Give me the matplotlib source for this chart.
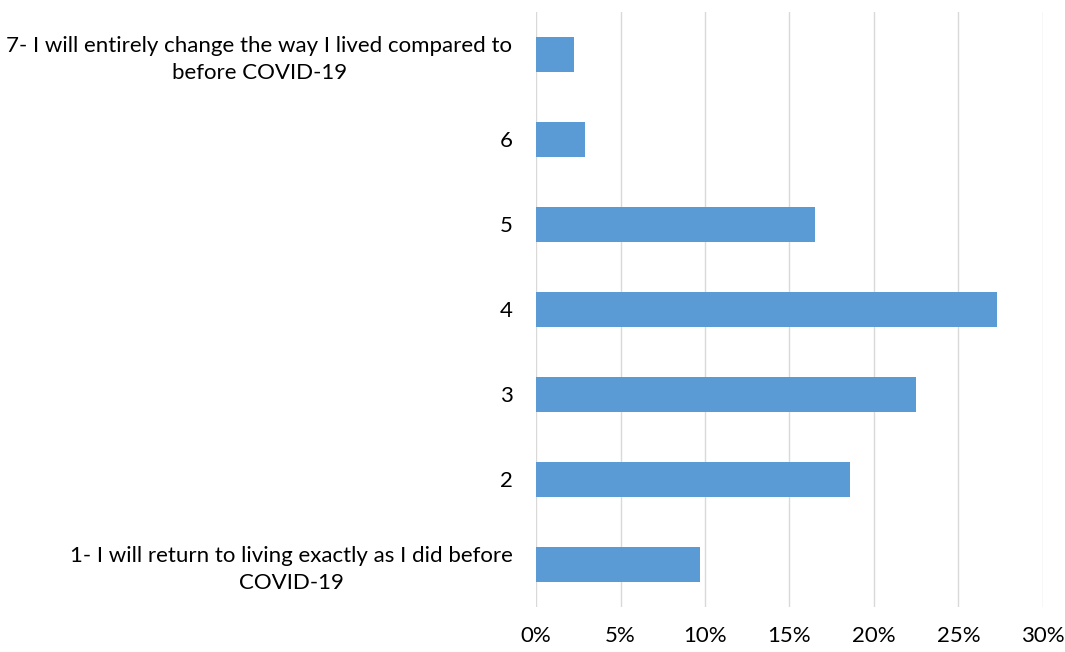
import matplotlib
matplotlib.use("Agg")
import matplotlib.pyplot as plt
from matplotlib.ticker import PercentFormatter

plt.rcParams['font.family'] = ['Lato', 'DejaVu Sans']

categories = [
    "1- I will return to living exactly as I did before\nCOVID-19",
    "2",
    "3",
    "4",
    "5",
    "6",
    "7- I will entirely change the way I lived compared to\nbefore COVID-19",
]
shares = [9.7, 18.6, 22.5, 27.3, 16.5, 2.9, 2.25]

fig = plt.figure(figsize=(10.65, 6.52), dpi=100)
ax = fig.add_axes([0.5033, 0.069, 0.476, 0.913])

ax.barh(range(len(categories)), shares, height=0.41, color='#5B9BD5', zorder=3)

ax.set_xlim(0, 30)
ax.set_ylim(-0.5, len(categories) - 0.5)
ax.set_xticks(range(0, 31, 5))
ax.xaxis.set_major_formatter(PercentFormatter(decimals=0))
ax.set_yticks(range(len(categories)))
ax.set_yticklabels(categories, multialignment='center', linespacing=1.4)

ax.grid(axis='x', color='#d9d9d9', linewidth=1, zorder=0)
for s in ax.spines.values():
    s.set_visible(False)
ax.tick_params(axis='both', length=0, labelsize=16, colors='black')
ax.tick_params(axis='x', pad=14)
ax.tick_params(axis='y', pad=17)

fig.savefig('out.png', dpi=100)
